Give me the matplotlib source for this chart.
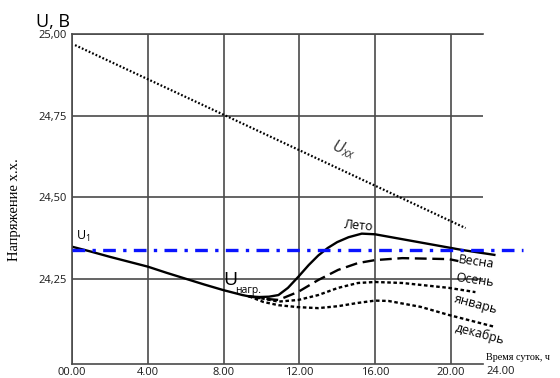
import matplotlib
matplotlib.use('Agg')
import matplotlib.pyplot as plt

plt.rcParams['font.family'] = ['Open Sans', 'DejaVu Sans']
plt.rcParams['mathtext.fontset'] = 'custom'
plt.rcParams['mathtext.rm'] = 'Open Sans'
plt.rcParams['mathtext.it'] = 'Open Sans:italic'

# --- data (hours, volts) ---
xx_hours = [0.16, 20.78]
xx_volts = [24.966, 24.406]

u1_hours = [0.0, 23.8]
u1_volts = [24.339, 24.339]

load_hours = [0, 1, 2, 3, 4, 5, 6, 7, 8, 9, 9.35]
load_volts = [24.349, 24.334, 24.318, 24.303, 24.288, 24.269, 24.251, 24.233, 24.216, 24.201, 24.197]

summer_hours = [9.35, 9.9, 10.4, 10.9, 11.4, 11.95, 12.5, 13.0, 13.5, 14.0, 14.6, 15.3, 16.0, 20.6, 22.3]
summer_volts = [24.197, 24.195, 24.196, 24.201, 24.223, 24.257, 24.293, 24.322, 24.345, 24.363,
                24.378, 24.389, 24.387, 24.339, 24.324]

spring_hours = [9.35, 10.1, 10.9, 11.95, 13.0, 14.05, 15.1, 16.0, 17.44, 19.9, 20.4]
spring_volts = [24.197, 24.19, 24.186, 24.211, 24.247, 24.278, 24.299, 24.308, 24.314, 24.311, 24.305]

jan_hours = [9.35, 9.9, 10.9, 11.95, 13.0, 14.05, 15.1, 16.0, 17.44, 19.9, 21.3]
jan_volts = [24.197, 24.192, 24.181, 24.186, 24.201, 24.223, 24.238, 24.241, 24.238, 24.223, 24.21]

dec_hours = [9.35, 10.1, 10.9, 11.95, 13.0, 14.05, 15.1, 16.0, 16.7, 18.4, 19.9, 22.3]
dec_volts = [24.197, 24.18, 24.17, 24.164, 24.161, 24.167, 24.177, 24.184, 24.183, 24.165, 24.14, 24.104]

x_ticks = [0, 4, 8, 12, 16, 20]
x_labels = ['00.00', '4.00', '8.00', '12.00', '16.00', '20.00']
y_ticks = [24.25, 24.50, 24.75, 25.00]
y_labels = ['24,25', '24,50', '24,75', '25,00']

W, H = 560, 378
fig = plt.figure(figsize=(W / 100, H / 100), dpi=100)
ax = fig.add_axes([72 / W, 14 / H, (483 - 72) / W, 330 / H])
ax.set_xlim(0, 21.7)
ax.set_ylim(23.99, 25.0)

grid_c = '#4a4a4a'
ax.set_xticks(x_ticks)
ax.set_xticklabels(x_labels, fontsize=8)
ax.set_yticks(y_ticks)
ax.set_yticklabels(y_labels, fontsize=8)
ax.tick_params(length=0, colors='#1a1a1a')
ax.tick_params(axis='x', pad=2)
ax.tick_params(axis='y', pad=4)
ax.grid(True, color=grid_c, lw=1.2)
ax.set_axisbelow(True)
for side in ['left', 'bottom', 'top']:
    ax.spines[side].set_color(grid_c)
    ax.spines[side].set_linewidth(1.2)
ax.spines['right'].set_visible(False)

# curves
ax.plot(xx_hours, xx_volts, color='black', lw=1.6, linestyle=(0, (0.8, 0.9)))
ax.plot(u1_hours, u1_volts, color='#0a14ff', lw=2.4, dashes=(3.8, 2.2, 1.0, 2.2), clip_on=False, zorder=4)
ax.plot(load_hours, load_volts, color='black', lw=1.7)
ax.plot(summer_hours, summer_volts, color='black', lw=1.7, clip_on=False)
ax.plot(spring_hours, spring_volts, color='black', lw=1.7, dashes=(5.0, 2.4))
ax.plot(jan_hours, jan_volts, color='black', lw=1.7, dashes=(1.5, 1.1))
ax.plot(dec_hours, dec_volts, color='black', lw=1.7, dashes=(1.5, 1.1), clip_on=False)


def ftext(px, py, s, **kw):
    fig.text(px / W, 1 - py / H, s, **kw)


# axis captions
ftext(53, 22, 'U, B', fontsize=13, ha='center', va='center')
ftext(15, 210, 'Напряжение х.х.', fontsize=10.5, rotation=90, ha='center', va='center',
      family=['Liberation Serif', 'DejaVu Serif'])
ftext(486, 357, 'Время суток, ч', fontsize=7.3, ha='left', va='center',
      family=['Liberation Serif', 'DejaVu Serif'])
ftext(501, 371, '24.00', fontsize=8, ha='center', va='center', color='#1a1a1a')

# curve labels
ftext(83, 236, r'$\mathrm{U}_1$', fontsize=9, ha='center', va='center')
ftext(344, 149, r'$U_{xx}$', fontsize=12, ha='center', va='center', rotation=-20, color='#333333')
ftext(223, 285, 'U', fontsize=14, ha='left', va='baseline')
ftext(235, 293, 'нагр.', fontsize=7.5, ha='left', va='baseline')
ftext(358, 226, 'Лето', fontsize=9, ha='center', va='center', rotation=-5)
ftext(476, 262, 'Весна', fontsize=9, ha='center', va='center', rotation=-8)
ftext(475, 280, 'Осень', fontsize=9, ha='center', va='center', rotation=-8)
ftext(476, 304, 'январь', fontsize=9, ha='center', va='center', rotation=-15)
ftext(480, 334, 'декабрь', fontsize=9, ha='center', va='center', rotation=-15)

fig.savefig('out.png', dpi=100)
